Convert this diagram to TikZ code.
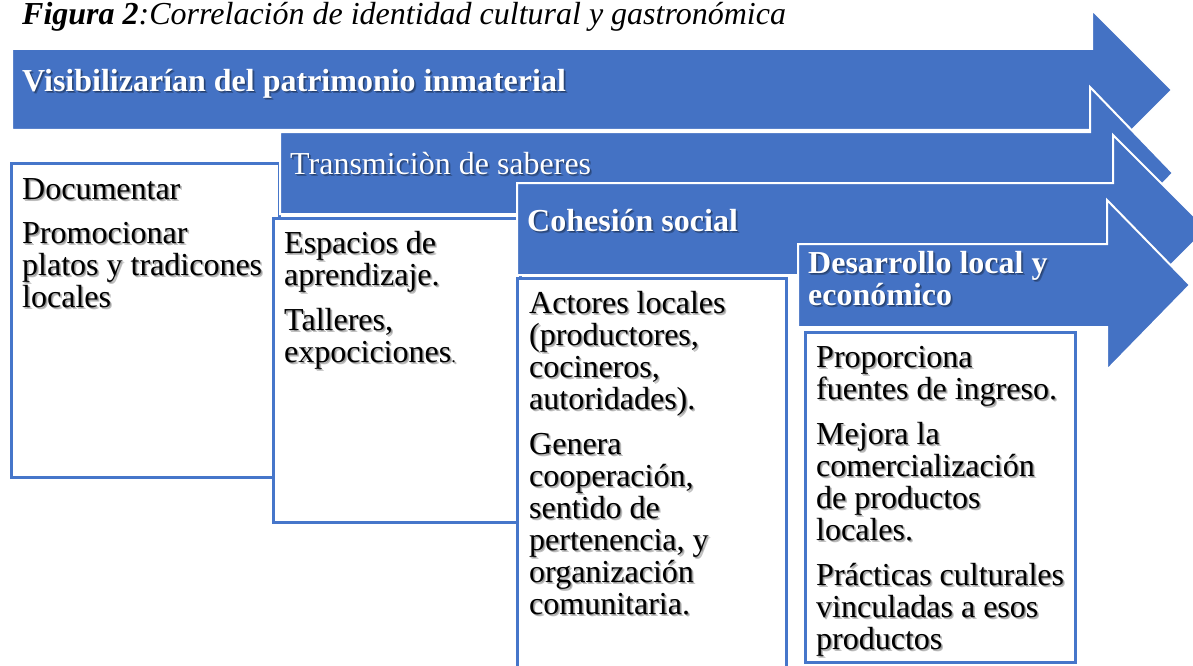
\documentclass[tikz,border=0pt]{standalone}
\usepackage{fontspec}
\setmainfont{Liberation Serif}
\definecolor{arrowblue}{HTML}{4472C4}
\definecolor{boxblue}{HTML}{4676CA}
\newcommand{\shline}[5]{%
  \node[#4, shadowtxt, xshift=2pt, yshift=-2pt] (#1s) at (#2,#3) {#5};
  \node[#4, shadowtxt, xshift=1pt, yshift=-1pt] (#1t) at (#2,#3) {#5};
  \node[#4] (#1) at (#2,#3) {#5};
}
\begin{document}
\begin{tikzpicture}[x=1pt,y=-1pt,
  bodytxt/.style={font=\fontsize{32}{32}\selectfont, anchor=base west, inner sep=0pt, text=black},
  headtxt/.style={font={\fontsize{32}{32}\selectfont\bfseries}, anchor=base west, inner sep=0pt, text=white},
  headreg/.style={font=\fontsize{32}{32}\selectfont, anchor=base west, inner sep=0pt, text=white},
  shadowtxt/.style={text=black, text opacity=0.25},
  arrowshape/.style={fill=arrowblue, draw=white, line width=2pt, line join=miter},
  boxshape/.style={fill=white, draw=boxblue, line width=3pt}]
\clip (0,0) rectangle (1193,666);
\fill[white] (0,0) rectangle (1193,666);

\node[bodytxt] (title) at (22,25) {\textbf{\textit{Figura 2}}\textit{:Correlación de identidad cultural y gastronómica}};

% arrow 1
\path[arrowshape] (12,49) -- (1092,49) -- (1092,10) -- (1172,90) -- (1092,170) -- (1092,130) -- (12,130) -- cycle;
\shline{h1}{22}{92}{headtxt}{Visibilizarían del patrimonio inmaterial}
% box 1
\path[boxshape] (11,163) rectangle (279,477);
\shline{b1a}{22}{199}{bodytxt}{Documentar}
\shline{b1b}{22}{243}{bodytxt}{Promocionar}
\shline{b1c}{22}{275}{bodytxt}{platos y tradicones}
\shline{b1d}{22}{307}{bodytxt}{locales}

% arrow 2
\path[arrowshape] (280,132) -- (1090,132) -- (1090,87) -- (1173,173) -- (1090,259) -- (1090,214) -- (280,214) -- cycle;
\shline{h2}{290}{174}{headreg}{Transmiciòn de saberes}
% box 2
\path[boxshape] (273,218) rectangle (520,522);
\shline{b2a}{284}{253}{bodytxt}{Espacios de}
\shline{b2b}{284}{285}{bodytxt}{aprendizaje.}
\shline{b2c}{284}{330}{bodytxt}{Talleres,}
\shline{b2d}{284}{362}{bodytxt}{expociciones{\fontsize{18}{18}\selectfont.}}

% arrow 3
\path[arrowshape] (517,183) -- (1113,183) -- (1113,135) -- (1207,229) -- (1113,323) -- (1113,275) -- (517,275) -- cycle;
\shline{h3}{527}{231}{headtxt}{Cohesión social}
% box 3
\path[boxshape] (517,278) rectangle (786,700);
\shline{b3a}{529}{313}{bodytxt}{Actores locales}
\shline{b3b}{529}{345}{bodytxt}{(productores,}
\shline{b3c}{529}{377}{bodytxt}{cocineros,}
\shline{b3d}{529}{409}{bodytxt}{autoridades).}
\shline{b3e}{529}{454}{bodytxt}{Genera}
\shline{b3f}{529}{486}{bodytxt}{cooperación,}
\shline{b3g}{529}{518}{bodytxt}{sentido de}
\shline{b3h}{529}{550}{bodytxt}{pertenencia, y}
\shline{b3i}{529}{582}{bodytxt}{organización}
\shline{b3j}{529}{614}{bodytxt}{comunitaria.}

% arrow 4
\path[arrowshape] (798,244) -- (1107,244) -- (1107,200) -- (1190,285) -- (1107,370) -- (1107,327) -- (798,327) -- cycle;
\shline{h4a}{808}{273}{headtxt}{Desarrollo local y}
\shline{h4b}{808}{305}{headtxt}{económico}
% box 4
\path[boxshape] (805,332) rectangle (1075,662);
\shline{b4a}{816}{367}{bodytxt}{Proporciona}
\shline{b4b}{816}{399}{bodytxt}{fuentes de ingreso.}
\shline{b4c}{816}{444}{bodytxt}{Mejora la}
\shline{b4d}{816}{476}{bodytxt}{comercialización}
\shline{b4e}{816}{508}{bodytxt}{de productos}
\shline{b4f}{816}{540}{bodytxt}{locales.}
\shline{b4g}{816}{585}{bodytxt}{Prácticas culturales}
\shline{b4h}{816}{617}{bodytxt}{vinculadas a esos}
\shline{b4i}{816}{649}{bodytxt}{productos}
\end{tikzpicture}
\end{document}
